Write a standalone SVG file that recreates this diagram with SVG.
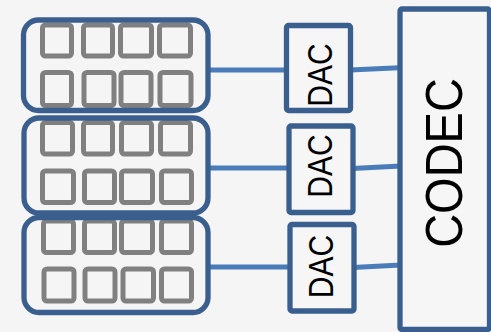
<svg xmlns="http://www.w3.org/2000/svg" width="491" height="332" viewBox="0 0 491 332">
<defs>
<style>
.bg{fill:#f5f5f5}
.board{fill:none;stroke:#3a5f8e;stroke-width:5.3}
.sq{fill:none;stroke:#808080;stroke-width:5}
.box{fill:#f6f6f6;stroke:#3a5f8e;stroke-width:5.3}
.wire{fill:none;stroke:#4a7cb9;stroke-width:5}
.lbl{font-family:"Liberation Sans",Arial,sans-serif;fill:#000;text-anchor:middle}
</style>
</defs>
<rect class="bg" x="0" y="0" width="491" height="332"/>
<g id="connectors">
<line class="wire" x1="208" y1="70" x2="287" y2="70"/>
<line class="wire" x1="350" y1="70" x2="399" y2="67.7"/>
<line class="wire" x1="208" y1="168" x2="290" y2="168"/>
<line class="wire" x1="352" y1="168.5" x2="401" y2="166"/>
<line class="wire" x1="208" y1="267" x2="291" y2="267"/>
<line class="wire" x1="353" y1="267.5" x2="401" y2="265"/>
</g>
<g id="board1">
<rect class="sq" x="42.5" y="25" width="29" height="31" rx="3"/>
<rect class="sq" x="83.5" y="25" width="29" height="31" rx="3"/>
<rect class="sq" x="120.5" y="25" width="31" height="31" rx="3"/>
<rect class="sq" x="159.5" y="25" width="31" height="31" rx="3"/>
<rect class="sq" x="42.5" y="72.5" width="29" height="33" rx="3"/>
<rect class="sq" x="84" y="72.5" width="30" height="33" rx="3"/>
<rect class="sq" x="121" y="72.5" width="30" height="33" rx="3"/>
<rect class="sq" x="160" y="72.5" width="31" height="33" rx="3"/>
<rect class="board" x="23.5" y="20" width="184.5" height="90.5" rx="15"/>
</g>
<g id="board2">
<rect class="sq" x="42.5" y="122.5" width="30" height="31.5" rx="3"/>
<rect class="sq" x="83.5" y="122.5" width="29" height="31.5" rx="3"/>
<rect class="sq" x="121.5" y="122.5" width="30" height="31.5" rx="3"/>
<rect class="sq" x="160.5" y="122.5" width="30" height="31.5" rx="3"/>
<rect class="sq" x="42.5" y="171" width="31" height="31.5" rx="3"/>
<rect class="sq" x="84.5" y="171" width="30" height="31.5" rx="3"/>
<rect class="sq" x="121.5" y="171" width="31" height="31.5" rx="3"/>
<rect class="sq" x="161.5" y="171" width="30" height="31.5" rx="3"/>
<rect class="board" x="24" y="118" width="184" height="95" rx="15"/>
</g>
<g id="board3">
<rect class="sq" x="43.5" y="221" width="30" height="31.5" rx="3"/>
<rect class="sq" x="84.5" y="221" width="30" height="31.5" rx="3"/>
<rect class="sq" x="121.5" y="221" width="31" height="31.5" rx="3"/>
<rect class="sq" x="161.5" y="221" width="30" height="31.5" rx="3"/>
<rect class="sq" x="44" y="269" width="30" height="32" rx="3"/>
<rect class="sq" x="85" y="269" width="30" height="32" rx="3"/>
<rect class="sq" x="123" y="269" width="30.5" height="32" rx="3"/>
<rect class="sq" x="161.5" y="269" width="30" height="32" rx="3"/>
<rect class="board" x="24" y="217.5" width="184" height="95" rx="15"/>
</g>
<g id="dac1">
<rect class="box" x="286.5" y="25.5" width="64" height="85" rx="2"/>
<text class="lbl" font-size="30" transform="translate(332,75) rotate(-90) scale(1,1.15)">DAC</text>
</g>
<g id="dac2">
<rect class="box" x="289" y="126" width="64" height="86.5" rx="2"/>
<text class="lbl" font-size="30" transform="translate(332,166) rotate(-90) scale(1,1.15)">DAC</text>
</g>
<g id="dac3">
<rect class="box" x="290" y="224.5" width="64" height="86.5" rx="2"/>
<text class="lbl" font-size="30" transform="translate(333,266.5) rotate(-90) scale(1,1.15)">DAC</text>
</g>
<g id="codec">
<rect class="box" x="400" y="9" width="89.5" height="320.5" rx="2"/>
<text class="lbl" font-size="47" transform="translate(462,163) rotate(-90) scale(1,1.1)">CODEC</text>
</g>
</svg>
